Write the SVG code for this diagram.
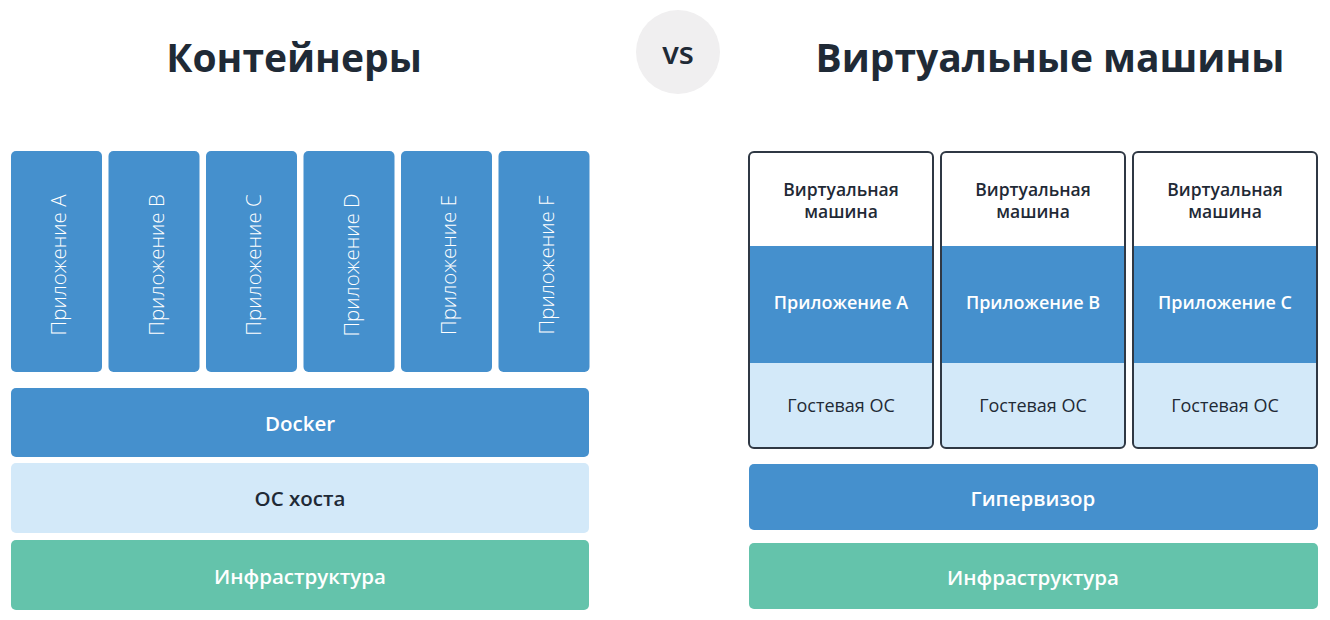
<svg xmlns="http://www.w3.org/2000/svg" width="1330" height="620" viewBox="0 0 1330 620">
<style>
.t{font-family:"Open Sans","Noto Sans","Liberation Sans",sans-serif;text-anchor:middle;dominant-baseline:central}
.title{font-size:39px;font-weight:700;fill:#1f2a36}
.vs{font-size:31px;font-weight:600;fill:#1f2a36}
.blue{fill:#4590cd}
.lblue{fill:#d3e9f9}
.green{fill:#64c3ab}
.app{font-size:20.5px;fill:#ffffff;font-weight:300}
.wl{font-size:20.5px;font-weight:600;fill:#ffffff}
.dl{font-size:20.5px;font-weight:600;fill:#1f2a36}
.vmt{font-size:17.5px;font-weight:600;fill:#1f2a36}
.vma{font-size:18px;font-weight:600;fill:#ffffff}
.vmo{font-size:18px;font-weight:500;fill:#1f2a36}
.frame{fill:none;stroke:#2f3844;stroke-width:2}
</style>
<rect width="1330" height="620" fill="#ffffff"/>
<g id="title-containers"><text class="t title" x="294" y="56">Контейнеры</text></g>
<g id="vs"><circle cx="678" cy="52" r="42" fill="#f0eff0"/><text class="t vs" x="678" y="52">vs</text></g>
<g id="title-vms"><text class="t title" x="1050" y="56">Виртуальные машины</text></g>

<g id="app-a"><rect class="blue" x="11" y="151" width="91" height="221" rx="5"/><text class="t app" transform="translate(58,265) rotate(-90)">Приложение A</text></g>
<g id="app-b"><rect class="blue" x="108.5" y="151" width="91" height="221" rx="5"/><text class="t app" transform="translate(155.5,265) rotate(-90)">Приложение B</text></g>
<g id="app-c"><rect class="blue" x="206" y="151" width="91" height="221" rx="5"/><text class="t app" transform="translate(253,265) rotate(-90)">Приложение C</text></g>
<g id="app-d"><rect class="blue" x="303.5" y="151" width="91" height="221" rx="5"/><text class="t app" transform="translate(350.5,265) rotate(-90)">Приложение D</text></g>
<g id="app-e"><rect class="blue" x="401" y="151" width="91" height="221" rx="5"/><text class="t app" transform="translate(448,265) rotate(-90)">Приложение E</text></g>
<g id="app-f"><rect class="blue" x="498.5" y="151" width="91" height="221" rx="5"/><text class="t app" transform="translate(545.5,265) rotate(-90)">Приложение F</text></g>

<g id="docker"><rect class="blue" x="11" y="388" width="578" height="69" rx="5"/><text class="t wl" x="300" y="423">Docker</text></g>
<g id="host-os"><rect class="lblue" x="11" y="463" width="578" height="70" rx="5"/><text class="t dl" x="300" y="498">ОС хоста</text></g>
<g id="infra-left"><rect class="green" x="11" y="540" width="578" height="70" rx="5"/><text class="t wl" x="300" y="576">Инфраструктура</text></g>

<g id="vm-1">
<rect class="lblue" x="749" y="152" width="184" height="296" rx="5"/>
<rect fill="#ffffff" x="749" y="152" width="184" height="110" rx="5"/>
<rect class="blue" x="749" y="246" width="184" height="117"/>
<rect class="frame" x="749" y="152" width="184" height="296" rx="5"/>
<text class="t vmt" x="841" y="189">Виртуальная</text><text class="t vmt" x="841" y="211">машина</text>
<text class="t vma" x="841" y="302">Приложение A</text>
<text class="t vmo" x="841" y="405">Гостевая ОС</text>
</g>
<g id="vm-2">
<rect class="lblue" x="941" y="152" width="184" height="296" rx="5"/>
<rect fill="#ffffff" x="941" y="152" width="184" height="110" rx="5"/>
<rect class="blue" x="941" y="246" width="184" height="117"/>
<rect class="frame" x="941" y="152" width="184" height="296" rx="5"/>
<text class="t vmt" x="1033" y="189">Виртуальная</text><text class="t vmt" x="1033" y="211">машина</text>
<text class="t vma" x="1033" y="302">Приложение B</text>
<text class="t vmo" x="1033" y="405">Гостевая ОС</text>
</g>
<g id="vm-3">
<rect class="lblue" x="1133" y="152" width="184" height="296" rx="5"/>
<rect fill="#ffffff" x="1133" y="152" width="184" height="110" rx="5"/>
<rect class="blue" x="1133" y="246" width="184" height="117"/>
<rect class="frame" x="1133" y="152" width="184" height="296" rx="5"/>
<text class="t vmt" x="1225" y="189">Виртуальная</text><text class="t vmt" x="1225" y="211">машина</text>
<text class="t vma" x="1225" y="302">Приложение C</text>
<text class="t vmo" x="1225" y="405">Гостевая ОС</text>
</g>

<g id="hypervisor"><rect class="blue" x="749" y="464" width="569" height="66" rx="5"/><text class="t wl" x="1033" y="498">Гипервизор</text></g>
<g id="infra-right"><rect class="green" x="749" y="543" width="569" height="66" rx="5"/><text class="t wl" x="1033" y="577">Инфраструктура</text></g>
<g id="connectors"/>
</svg>
